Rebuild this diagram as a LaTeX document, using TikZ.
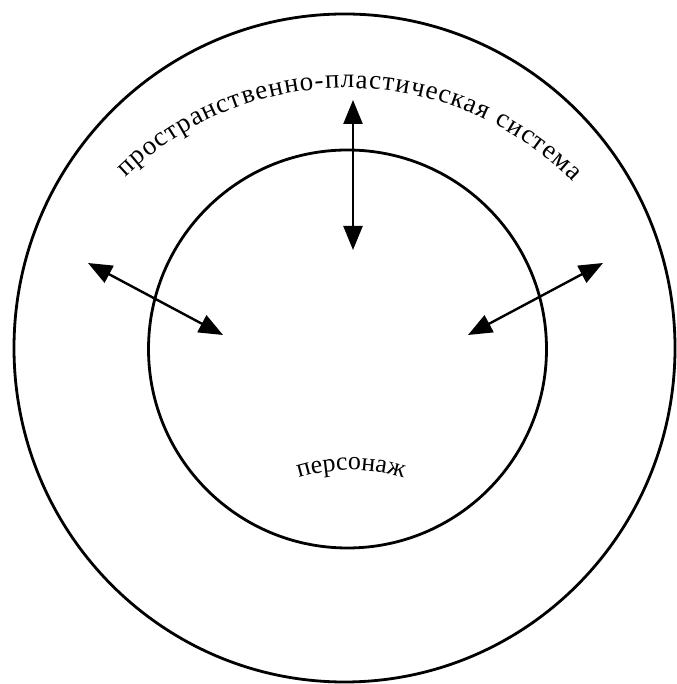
\documentclass[tikz,border=0pt]{standalone}
\usepackage{fontspec}
\setmainfont{Liberation Serif}
\usetikzlibrary{arrows.meta,decorations.text}
\begin{document}
\begin{tikzpicture}[x=1pt,y=1pt,
  ring/.style={line width=2.8pt,black},
  dbl/.style={line width=2.4pt,{Triangle[length=24pt,width=19pt]}-{Triangle[length=24pt,width=19pt]}}]
\useasboundingbox (0,0) rectangle (676,684);
% circles
\coordinate (oc) at (344.5,336);
\coordinate (ic) at (347.5,335);
\draw[ring] (oc) ellipse [x radius=330.5, y radius=334];
\draw[ring] (ic) circle [radius=199];
% arrow ends
\coordinate (t1) at (353,584);
\coordinate (t2) at (353,434);
\coordinate (l1) at (88,421);
\coordinate (l2) at (223,349);
\coordinate (r1) at (603,421);
\coordinate (r2) at (468,349);
\draw[dbl] (t1) -- (t2);
\draw[dbl] (l1) -- (l2);
\draw[dbl] (r1) -- (r2);
% curved labels
\coordinate (tc) at (347,277);
\path[decorate,decoration={text along path,text align=fit to path,
  text={|\fontsize{27}{27}\selectfont|пространственно-пластическая система}}]
  (tc) ++(134:319) arc (134:45:319);
\coordinate (bc) at (351,34);
\path[decorate,decoration={text along path,text align=center,
  text={|\fontsize{26}{26}\selectfont|персонаж}}]
  (bc) ++(115:180) arc (115:65:180);
\end{tikzpicture}
\end{document}
